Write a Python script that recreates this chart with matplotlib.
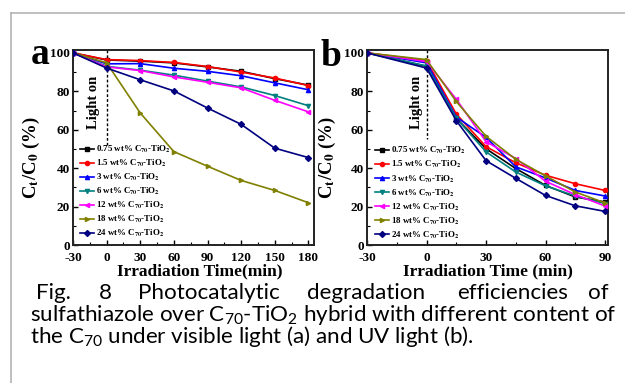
import matplotlib
matplotlib.use("Agg")
import matplotlib.pyplot as plt
from matplotlib.ticker import MultipleLocator
from matplotlib.lines import Line2D

plt.rcParams["axes.unicode_minus"] = False
plt.rcParams["mathtext.fontset"] = "custom"
plt.rcParams["mathtext.rm"] = "Lato"
plt.rcParams["mathtext.it"] = "Lato:italic"
plt.rcParams["mathtext.bf"] = "Lato:bold"

# ---------------- data ----------------
labels = ["0.75 wt% C$_\\mathbf{70}$-TiO$_\\mathbf{2}$",
          "1.5 wt% C$_\\mathbf{70}$-TiO$_\\mathbf{2}$",
          "3 wt% C$_\\mathbf{70}$-TiO$_\\mathbf{2}$",
          "6 wt% C$_\\mathbf{70}$-TiO$_\\mathbf{2}$",
          "12 wt% C$_\\mathbf{70}$-TiO$_\\mathbf{2}$",
          "18 wt% C$_\\mathbf{70}$-TiO$_\\mathbf{2}$",
          "24 wt% C$_\\mathbf{70}$-TiO$_\\mathbf{2}$"]
colors = ["#000000", "#ff0000", "#0000ff", "#008080", "#ff00ff", "#808000", "#000080"]
markers = ["s", "o", "^", "v", "<", ">", "D"]

time_a = [-30, 0, 30, 60, 90, 120, 150, 180]
vis_075 = [100, 96.3, 95.7, 94.8, 92.7, 90.4, 86.6, 83.2]
vis_15 = [100, 96.5, 96.0, 95.0, 92.9, 90.0, 86.9, 83.0]
vis_3 = [100, 94.3, 94.4, 92.0, 90.4, 88.1, 84.4, 80.8]
vis_6 = [100, 93.0, 91.0, 88.4, 85.3, 82.3, 77.8, 72.5]
vis_12 = [100, 92.7, 90.8, 87.5, 84.7, 81.8, 75.3, 69.3]
vis_18 = [100, 94.8, 68.7, 48.6, 41.0, 33.6, 28.4, 22.0]
vis_24 = [100, 92.1, 86.0, 80.2, 71.3, 62.8, 50.4, 45.5]

time_b = [-30, 0, 15, 30, 45, 60, 75, 90]
uv_075 = [100, 93.0, 66.0, 50.1, 39.8, 31.0, 25.0, 22.4]
uv_15 = [100, 96.0, 68.2, 51.2, 42.8, 36.3, 31.9, 28.4]
uv_3 = [100, 94.8, 66.6, 56.0, 40.7, 34.9, 28.4, 25.5]
uv_6 = [100, 93.2, 66.0, 48.5, 38.0, 30.8, 25.5, 21.6]
uv_12 = [100, 95.5, 75.9, 53.8, 45.0, 33.2, 26.2, 20.3]
uv_18 = [100, 96.5, 74.7, 56.6, 44.6, 36.0, 27.6, 21.9]
uv_24 = [100, 92.1, 64.8, 43.9, 34.7, 25.8, 20.4, 17.5]

series_a = [vis_075, vis_15, vis_3, vis_6, vis_12, vis_18, vis_24]
series_b = [uv_075, uv_15, uv_3, uv_6, uv_12, uv_18, uv_24]

xticks_a = [-30, 0, 30, 60, 90, 120, 150, 180]
xticks_b = [-30, 0, 30, 60, 90]
yticks = [0, 20, 40, 60, 80, 100]

caption_line1 = ["Fig.", "8", "Photocatalytic", "degradation", "efficiencies", "of"]
caption_line2 = "sulfathiazole over C$_{70}$-TiO$_{2}$ hybrid with different content of"
caption_line3 = "the C$_{70}$ under visible light (a) and UV light (b)."

# ---------------- figure ----------------
W, H = 625, 383
fig = plt.figure(figsize=(W / 100, H / 100), dpi=100)
serif = "Liberation Serif"

def fx(px):
    return px / W

def fy(py):
    return 1 - py / H

# border of the screenshot frame
fig.add_artist(Line2D([fx(10.5), fx(10.5)], [fy(12.5), 0], color="#b4b4b4", lw=1.2))
fig.add_artist(Line2D([fx(10.5), 1], [fy(12.5), fy(12.5)], color="#b4b4b4", lw=1.2))

def make_panel(rect, t, series, xlim, xticks, xlabel, xlab_x, ylab_x, light_x,
               dash_bottom, leg_anchor):
    ax = fig.add_axes(rect)
    for ys, c, m, lab in zip(series, colors, markers, labels):
        ax.plot(t, ys, color=c, marker=m, markersize=3.0, lw=1.2, label=lab, zorder=3)
    ax.set_xlim(*xlim)
    ax.set_ylim(0, 101.5)
    ax.set_xticks(xticks)
    ax.set_yticks(yticks)
    ax.xaxis.set_minor_locator(MultipleLocator(15))
    ax.yaxis.set_minor_locator(MultipleLocator(10))
    ax.tick_params(which="both", direction="in", top=False, right=False, labelsize=9.5)
    ax.tick_params(axis="x", which="both", pad=5)
    ax.tick_params(axis="y", which="both", pad=2)
    ax.tick_params(which="major", length=3.5, width=1)
    ax.tick_params(which="minor", length=2, width=0.8)
    for lab in ax.get_xticklabels() + ax.get_yticklabels():
        lab.set_fontfamily(serif)
        lab.set_fontweight("bold")
    for s in ax.spines.values():
        s.set_linewidth(1.4)
        s.set_color("#222222")
    ax.set_xlabel(xlabel, fontfamily=serif, fontweight="bold", fontsize=12.5)
    ax.xaxis.set_label_coords(xlab_x, -0.095)
    ax.set_ylabel("C$_\\mathbf{t}$/C$_\\mathbf{0}$ (%)", fontfamily=serif, fontweight="bold",
                  fontsize=13.5, math_fontfamily="stix")
    ax.yaxis.set_label_coords(ylab_x, 0.45)
    ax.plot([0, 0], [101.5, dash_bottom], color="black", lw=1.0,
            linestyle=(0, (2, 1.5)), zorder=2)
    ax.text(light_x, 74, "Light on", rotation=90, ha="center", va="center",
            fontfamily=serif, fontweight="bold", fontsize=10.5)
    leg = ax.legend(loc="lower left", bbox_to_anchor=leg_anchor, frameon=False,
                    prop={"family": serif, "weight": "bold", "size": 6.4},
                    handlelength=1.55, handletextpad=0.3, labelspacing=0.32,
                    borderpad=0, borderaxespad=0)
    for txt in leg.get_texts():
        txt.set_math_fontfamily("stix")
    return ax

ax_a = make_panel([fx(73), fy(245), fx(314) - fx(73), fy(50) - fy(245)],
                  time_a, series_a, (-30, 185), xticks_a, "Irradiation Time(min)",
                  0.525, -0.13, -11.3, 52, (0.028, 0.03))
ax_b = make_panel([fx(367), fy(245), fx(608) - fx(367), fy(50) - fy(245)],
                  time_b, series_b, (-30, 91.5), xticks_b, "Irradiation Time (min)",
                  0.5, -0.12, -4.8, 55, (0.033, 0.022))

fig.text(fx(31), fy(64), "a", fontfamily=serif, fontweight="bold", fontsize=27,
         ha="left", va="baseline")
fig.text(fx(321), fy(66), "b", fontfamily=serif, fontweight="bold", fontsize=27,
         ha="left", va="baseline")

# ---------------- caption ----------------
cap_font = "Lato"
cap_size = 16.1
word_x = [36, 99, 138, 307, 457, 588]
for w, x in zip(caption_line1, word_x):
    fig.text(fx(x), fy(299), w, fontfamily=cap_font, fontsize=cap_size,
             ha="left", va="baseline", math_fontfamily="custom")
fig.text(fx(30), fy(321), caption_line2, fontfamily=cap_font, fontsize=cap_size,
         ha="left", va="baseline", math_fontfamily="custom")
fig.text(fx(30), fy(343), caption_line3, fontfamily=cap_font, fontsize=cap_size,
         ha="left", va="baseline", math_fontfamily="custom")

fig.savefig("out.png", dpi=100)
